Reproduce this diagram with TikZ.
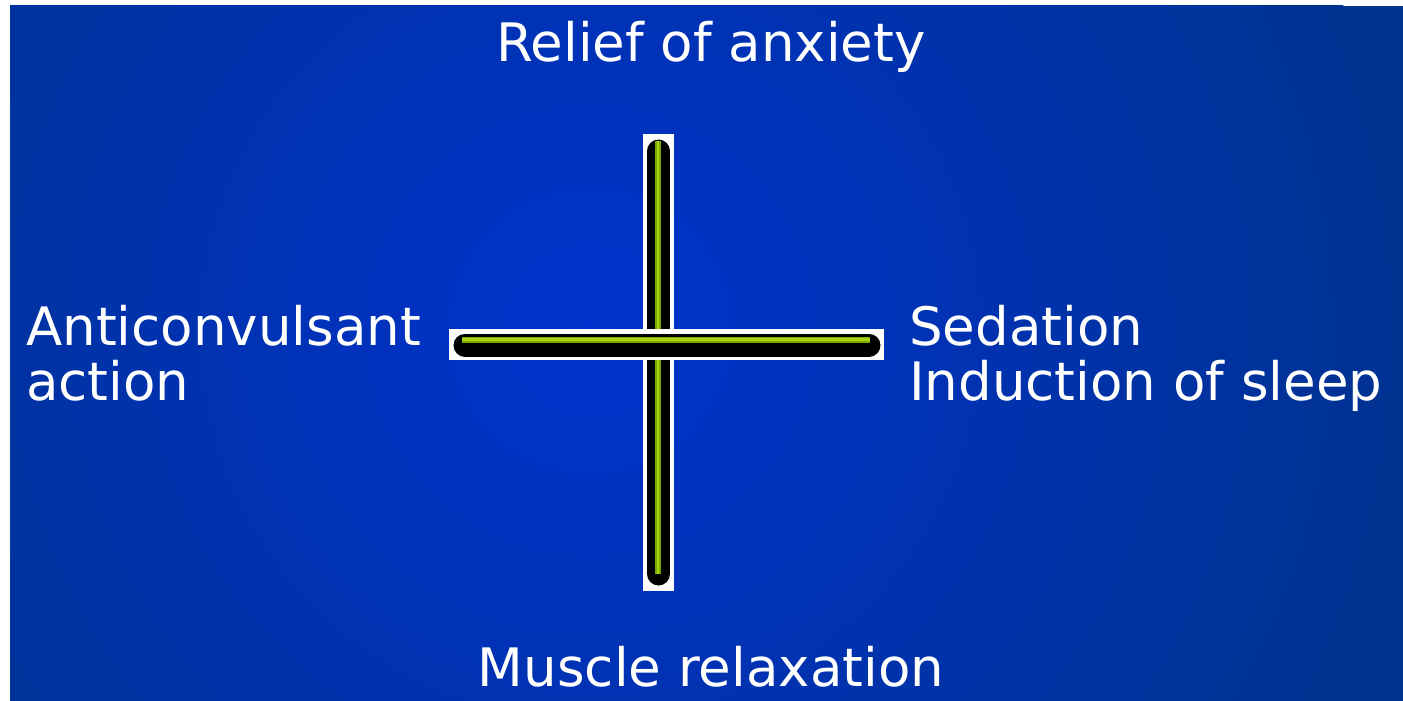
\documentclass[tikz,border=0pt]{standalone}
\usepackage{fontspec}
\setmainfont{DejaVu Sans}
\definecolor{bginner}{RGB}{0,50,205}
\definecolor{bgouter}{RGB}{0,50,145}
\definecolor{tubegreen}{RGB}{120,170,0}
\definecolor{tubelight}{RGB}{170,210,20}
\tikzset{
  lbl/.style={text=white,font=\fontsize{53}{55}\selectfont,inner sep=0pt},
  tube/.style={line width=23pt,line cap=round,black},
  tubecore/.style={line width=6pt,tubegreen},
  tubehl/.style={line width=2.5pt,tubelight},
  backing/.style={fill=white,draw=none}
}
\begin{document}
\begin{tikzpicture}[x=1pt,y=-1pt]
\useasboundingbox (0,0) rectangle (1403,701);
\fill[white] (0,0) rectangle (1403,701);
\begin{scope}
\clip (10,6) rectangle (1403,701);
\fill[bgouter] (10,6) rectangle (1403,701);
\shade[inner color=bginner,outer color=bgouter] (590,330) circle[radius=820];
\end{scope}
% vertical bar
\fill[backing] (643,134) rectangle (674,591);
\draw[tube] (658.5,151) -- (658.5,574);
\draw[tubecore] (658,141) -- (658,574);
\draw[tubehl] (658,141) -- (658,574);
% horizontal bar
\fill[backing] (449,329) rectangle (884,360);
\draw[tube] (465,345) -- (869,345);
\draw[tubecore] (462,339.5) -- (870,339.5);
\draw[tubehl] (462,339.5) -- (870,339.5);
% labels
\node[lbl,anchor=base] (top) at (711,62) {Relief of anxiety};
\node[lbl,anchor=base] (bottom) at (711,686) {Muscle relaxation};
\node[lbl,anchor=base west,align=left] (left) at (26,400) {Anticonvulsant\\action};
\node[lbl,anchor=base west,align=left] (right) at (909,400) {Sedation\\Induction of sleep};
\end{tikzpicture}
\end{document}
